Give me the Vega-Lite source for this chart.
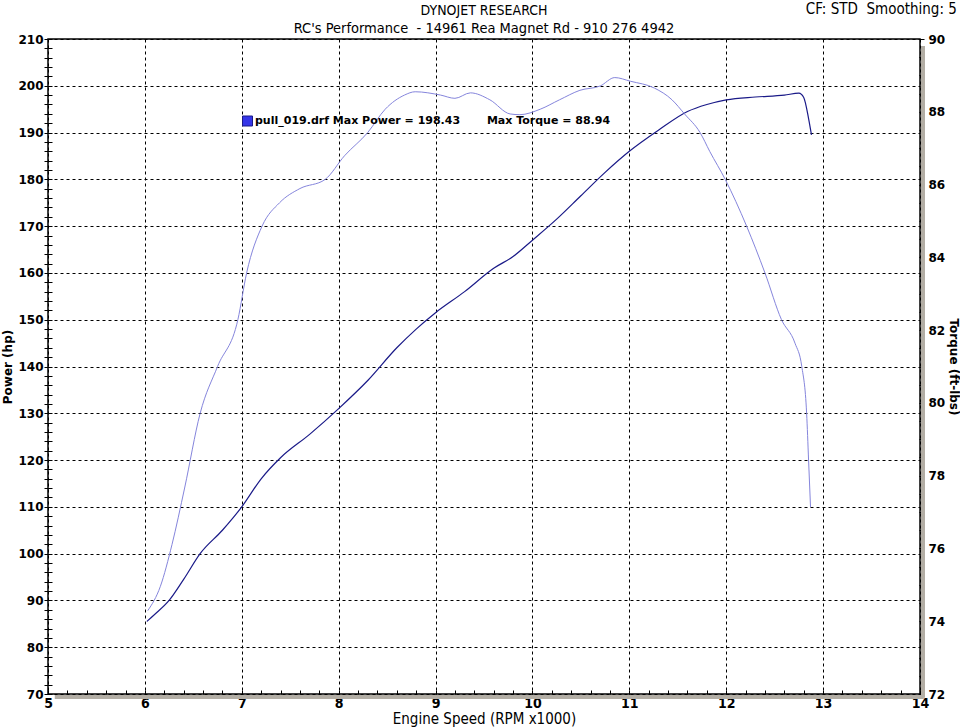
{
  "$schema": "https://vega.github.io/schema/vega-lite/v6.json",
  "width": 872,
  "height": 655,
  "autosize": {"type": "none"},
  "padding": {"left": 48, "top": 39, "right": 40, "bottom": 34},
  "background": "white",
  "data": {"values": [{}]},
  "title": {
    "text": "DYNOJET RESEARCH",
    "subtitle": "RC's Performance \u00a0- 14961 Rea Magnet Rd - 910 276 4942",
    "frame": "group",
    "anchor": "middle",
    "font": "Liberation Sans Narrow, DejaVu Sans Condensed, sans-serif",
    "fontSize": 14,
    "fontWeight": "normal",
    "color": "black",
    "subtitleFont": "Liberation Sans Narrow, DejaVu Sans Condensed, sans-serif",
    "subtitleFontSize": 14.5,
    "subtitleColor": "black",
    "subtitlePadding": 4,
    "offset": -33.5
  },
  "datasets": {
    "power": [
      {"rpm": 6.02, "hp": 85.5},
      {"rpm": 6.1, "hp": 87},
      {"rpm": 6.25, "hp": 90},
      {"rpm": 6.4, "hp": 94.5},
      {"rpm": 6.57, "hp": 100},
      {"rpm": 6.8, "hp": 105},
      {"rpm": 7.0, "hp": 110},
      {"rpm": 7.2, "hp": 116},
      {"rpm": 7.4, "hp": 120.5},
      {"rpm": 7.7, "hp": 125.5},
      {"rpm": 8.0, "hp": 131},
      {"rpm": 8.3, "hp": 137},
      {"rpm": 8.6, "hp": 144},
      {"rpm": 8.8, "hp": 148},
      {"rpm": 9.0, "hp": 151.5},
      {"rpm": 9.3, "hp": 156},
      {"rpm": 9.6, "hp": 161},
      {"rpm": 9.8, "hp": 163.5},
      {"rpm": 10.0, "hp": 167},
      {"rpm": 10.25, "hp": 171.5},
      {"rpm": 10.5, "hp": 176.5},
      {"rpm": 10.75, "hp": 181.5},
      {"rpm": 11.0, "hp": 186},
      {"rpm": 11.3, "hp": 190.5},
      {"rpm": 11.6, "hp": 194.5},
      {"rpm": 11.8, "hp": 196},
      {"rpm": 12.0, "hp": 197},
      {"rpm": 12.3, "hp": 197.6},
      {"rpm": 12.6, "hp": 198},
      {"rpm": 12.75, "hp": 198.43},
      {"rpm": 12.8, "hp": 197.5},
      {"rpm": 12.85, "hp": 193},
      {"rpm": 12.88, "hp": 189.5}
    ],
    "torque": [
      {"rpm": 6.03, "tq": 74.29},
      {"rpm": 6.16, "tq": 74.96},
      {"rpm": 6.28, "tq": 76.11},
      {"rpm": 6.41, "tq": 77.66},
      {"rpm": 6.57, "tq": 79.71},
      {"rpm": 6.75, "tq": 81.0},
      {"rpm": 6.96, "tq": 82.29},
      {"rpm": 7.05, "tq": 83.57},
      {"rpm": 7.21, "tq": 84.86},
      {"rpm": 7.39, "tq": 85.5},
      {"rpm": 7.6, "tq": 85.89},
      {"rpm": 7.86, "tq": 86.14},
      {"rpm": 8.06, "tq": 86.79},
      {"rpm": 8.3, "tq": 87.43},
      {"rpm": 8.48, "tq": 88.07},
      {"rpm": 8.68, "tq": 88.46},
      {"rpm": 8.79, "tq": 88.55},
      {"rpm": 9.05, "tq": 88.46},
      {"rpm": 9.2, "tq": 88.37},
      {"rpm": 9.36, "tq": 88.52},
      {"rpm": 9.56, "tq": 88.33},
      {"rpm": 9.77, "tq": 87.94},
      {"rpm": 9.87, "tq": 87.92},
      {"rpm": 10.08, "tq": 88.07},
      {"rpm": 10.28, "tq": 88.33},
      {"rpm": 10.49, "tq": 88.59},
      {"rpm": 10.7, "tq": 88.71},
      {"rpm": 10.85, "tq": 88.94},
      {"rpm": 11.01, "tq": 88.84},
      {"rpm": 11.26, "tq": 88.65},
      {"rpm": 11.44, "tq": 88.33},
      {"rpm": 11.57, "tq": 87.94},
      {"rpm": 11.73, "tq": 87.43},
      {"rpm": 11.83, "tq": 86.91},
      {"rpm": 11.99, "tq": 86.14},
      {"rpm": 12.21, "tq": 84.86},
      {"rpm": 12.4, "tq": 83.57},
      {"rpm": 12.57, "tq": 82.29},
      {"rpm": 12.71, "tq": 81.64},
      {"rpm": 12.78, "tq": 81.0},
      {"rpm": 12.83, "tq": 79.71},
      {"rpm": 12.85, "tq": 78.43},
      {"rpm": 12.87, "tq": 77.14}
    ]
  },
  "layer": [
    {
      "mark": {"type": "rule", "color": "#b3aea5", "strokeWidth": 4, "xOffset": 3},
      "encoding": {
        "x": {"datum": 14, "type": "quantitative", "scale": {"domain": [5, 14], "nice": false, "zero": false}, "axis": null},
        "y": {"datum": 69.2, "type": "quantitative", "scale": {"domain": [70, 210], "nice": false, "zero": false}, "axis": null},
        "y2": {"datum": 208.5}
      }
    },
    {
      "mark": {"type": "rule", "color": "#b3aea5", "strokeWidth": 4, "yOffset": 3},
      "encoding": {
        "x": {"datum": 5.07, "type": "quantitative", "scale": {"domain": [5, 14], "nice": false, "zero": false}, "axis": null},
        "x2": {"datum": 14.04},
        "y": {"datum": 70, "type": "quantitative", "scale": {"domain": [70, 210], "nice": false, "zero": false}, "axis": null}
      }
    },
    {
      "data": {"name": "power"},
      "mark": {"type": "line", "strokeWidth": 1.2, "interpolate": "monotone"},
      "encoding": {
        "x": {
          "field": "rpm", "type": "quantitative",
          "scale": {"domain": [5, 14], "nice": false, "zero": false},
          "axis": {
            "orient": "bottom",
            "values": [5,5.2,5.4,5.6,5.8,6,6.2,6.4,6.6,6.8,7,7.2,7.4,7.6,7.8,8,8.2,8.4,8.6,8.8,9,9.2,9.4,9.6,9.8,10,10.2,10.4,10.6,10.8,11,11.2,11.4,11.6,11.8,12,12.2,12.4,12.6,12.8,13,13.2,13.4,13.6,13.8,14],
            "offset": -4,
            "domain": false,
            "tickSize": 4,
            "tickColor": "black",
            "tickWidth": 1,
            "labelExpr": "abs(datum.value - round(datum.value)) < 0.01 ? format(round(datum.value), 'd') : ''",
            "labelOverlap": false,
            "labelFlush": false,
            "labelPadding": 2,
            "labelFont": "Liberation Sans Narrow, DejaVu Sans Condensed, sans-serif",
            "labelFontSize": 14,
            "labelFontWeight": "bold",
            "labelColor": "black",
            "grid": true,
            "gridColor": "black",
            "gridDash": [3, 3],
            "gridWidth": 1,
            "gridOpacity": {"condition": {"test": "abs(datum.value - round(datum.value)) < 0.01", "value": 1}, "value": 0},
            "title": "Engine Speed (RPM x1000)",
            "titleFont": "Liberation Sans Narrow, DejaVu Sans Condensed, sans-serif",
            "titleFontSize": 15,
            "titleFontWeight": "normal",
            "titleColor": "black",
            "titlePadding": 1
          }
        },
        "y": {
          "field": "hp", "type": "quantitative",
          "scale": {"domain": [70, 210], "nice": false, "zero": false},
          "axis": {
            "orient": "left",
            "values": [70,72,74,76,78,80,82,84,86,88,90,92,94,96,98,100,102,104,106,108,110,112,114,116,118,120,122,124,126,128,130,132,134,136,138,140,142,144,146,148,150,152,154,156,158,160,162,164,166,168,170,172,174,176,178,180,182,184,186,188,190,192,194,196,198,200,202,204,206,208,210],
            "offset": -4,
            "domain": false,
            "tickSize": 8,
            "tickColor": "black",
            "tickWidth": 1,
            "labelExpr": "datum.value % 10 === 0 ? format(datum.value, 'd') : ''",
            "labelOverlap": false,
            "labelFlush": false,
            "labelPadding": 1,
            "labelFont": "DejaVu Sans",
            "labelFontSize": 12,
            "labelFontWeight": "bold",
            "labelColor": "black",
            "grid": true,
            "gridColor": "black",
            "gridDash": [3, 3],
            "gridWidth": 1,
            "gridOpacity": {"condition": {"test": "datum.value % 10 === 0", "value": 1}, "value": 0},
            "title": "Power (hp)",
            "titleFont": "DejaVu Sans",
            "titleFontSize": 12,
            "titleFontWeight": "bold",
            "titleColor": "black",
            "titlePadding": 3
          }
        },
        "color": {
          "datum": "pull_019.drf Max Power = 198.43\u00a0\u00a0\u00a0\u00a0\u00a0\u00a0 Max Torque = 88.94",
          "type": "nominal",
          "scale": {"range": ["#1a1a88"]},
          "legend": {
            "orient": "none",
            "legendX": 194,
            "legendY": 76.5,
            "title": null,
            "padding": 0,
            "symbolType": "square",
            "symbolSize": 100,
            "symbolFillColor": "#3535e8",
            "symbolStrokeColor": "#00005a",
            "symbolStrokeWidth": 1,
            "symbolOpacity": 1,
            "labelFont": "DejaVu Sans",
            "labelFontSize": 11,
            "labelFontWeight": "bold",
            "labelColor": "black",
            "labelOffset": 2,
            "labelLimit": 600
          }
        }
      }
    },
    {
      "data": {"name": "torque"},
      "mark": {"type": "line", "strokeWidth": 1, "color": "#8585dc", "interpolate": "monotone"},
      "encoding": {
        "x": {"field": "rpm", "type": "quantitative", "scale": {"domain": [5, 14], "nice": false, "zero": false}, "axis": null},
        "y": {
          "field": "tq", "type": "quantitative",
          "scale": {"domain": [72, 90], "nice": false, "zero": false},
          "axis": {
            "orient": "right",
            "values": [72,72.5,73,73.5,74,74.5,75,75.5,76,76.5,77,77.5,78,78.5,79,79.5,80,80.5,81,81.5,82,82.5,83,83.5,84,84.5,85,85.5,86,86.5,87,87.5,88,88.5,89,89.5,90],
            "offset": -1,
            "domain": false,
            "tickSize": 5,
            "tickColor": "black",
            "tickWidth": 1,
            "labelExpr": "datum.value % 2 === 0 ? format(datum.value, 'd') : ''",
            "labelOverlap": false,
            "labelFlush": false,
            "labelPadding": 4,
            "labelFont": "DejaVu Sans",
            "labelFontSize": 12,
            "labelFontWeight": "bold",
            "labelColor": "black",
            "grid": false,
            "title": "Torque (ft-lbs)",
            "titleFont": "DejaVu Sans",
            "titleFontSize": 12,
            "titleFontWeight": "bold",
            "titleColor": "black",
            "titlePadding": 2
          }
        }
      }
    },
    {
      "mark": {"type": "text", "align": "right", "baseline": "alphabetic", "font": "Liberation Sans Narrow, DejaVu Sans Condensed, sans-serif", "fontSize": 15, "color": "black", "text": "CF: STD\u00a0\u00a0Smoothing: 5"},
      "encoding": {
        "x": {"datum": 14.38, "type": "quantitative", "scale": {"domain": [5, 14], "nice": false, "zero": false}, "axis": null},
        "y": {"datum": 215.3, "type": "quantitative", "scale": {"domain": [70, 210], "nice": false, "zero": false}, "axis": null}
      }
    }
  ],
  "resolve": {"scale": {"x": "independent", "y": "independent"}},
  "config": {
    "view": {"stroke": "black", "strokeWidth": 1.5},
    "axis": {"ticks": true}
  }
}
